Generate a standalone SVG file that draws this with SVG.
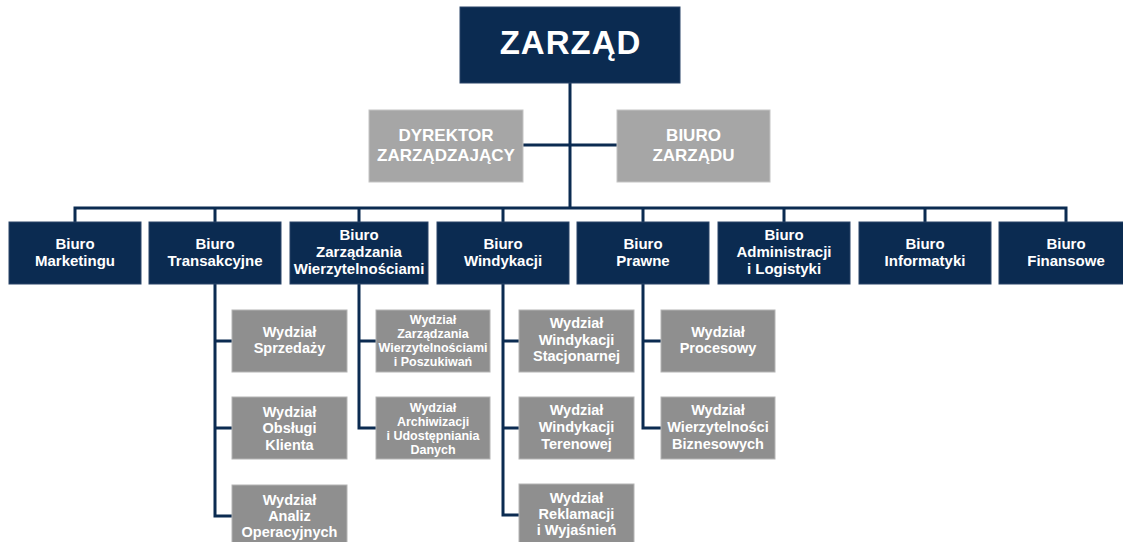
<svg xmlns="http://www.w3.org/2000/svg" width="1123" height="542" viewBox="0 0 1123 542">
<style>
.navy{fill:#0b2b51;stroke:#2a4468;stroke-width:1}
.g1{fill:#a6a6a6;stroke:#c4c4c4;stroke-width:1}
.g2{fill:#8f8f8f;stroke:#b4b4b4;stroke-width:1}
text{font-family:"Liberation Sans",Arial,sans-serif;font-weight:bold;fill:#ffffff;text-anchor:middle}
.b{font-size:15px}
.w{font-size:14.5px}
.s{font-size:12.5px}
.t{font-size:17px}
.conn{fill:none;stroke:#0b2b51;stroke-width:3;stroke-linejoin:miter}
</style>
<rect width="1123" height="542" fill="#ffffff"/>
<g id="connectors" class="conn">
<path d="M570 83V208"/>
<path d="M523 145H617"/>
<path d="M75 222V208H1066V222"/>
<path d="M215 208V222M359 208V222M503 208V222M643 208V222M784 208V222M925 208V222"/>
<path d="M215 284V516H232M215 341H232M215 428H232"/>
<path d="M359 284V428H376M359 341H376"/>
<path d="M503 284V515H519M503 341H519M503 428H519"/>
<path d="M643 284V428H661M643 341H661"/>
</g>
<g id="zarzad"><rect class="navy" x="460" y="7" width="220" height="76"/><text x="570.5" y="54" style="font-size:33px;letter-spacing:1px">ZARZĄD</text></g>
<g id="dyrektor"><rect class="g1" x="369" y="110" width="154" height="72"/><text class="t" x="446" y="141">DYREKTOR</text><text class="t" x="446" y="161">ZARZĄDZAJĄCY</text></g>
<g id="biuro-zarzadu"><rect class="g1" x="617" y="110" width="153" height="72"/><text class="t" x="693.5" y="141">BIURO</text><text class="t" x="693.5" y="161">ZARZĄDU</text></g>

<g id="b-marketingu"><rect class="navy" x="9" y="222" width="132" height="62"/><text class="b" x="75" y="249">Biuro</text><text class="b" x="75" y="266">Marketingu</text></g>
<g id="b-transakcyjne"><rect class="navy" x="149" y="222" width="132" height="62"/><text class="b" x="215" y="249">Biuro</text><text class="b" x="215" y="266">Transakcyjne</text></g>
<g id="b-zarzadzania"><rect class="navy" x="290" y="222" width="138" height="62"/><text class="b" x="359" y="240">Biuro</text><text class="b" x="359" y="257">Zarządzania</text><text class="b" x="359" y="274">Wierzytelnościami</text></g>
<g id="b-windykacji"><rect class="navy" x="437" y="222" width="132" height="62"/><text class="b" x="503" y="249">Biuro</text><text class="b" x="503" y="266">Windykacji</text></g>
<g id="b-prawne"><rect class="navy" x="577" y="222" width="132" height="62"/><text class="b" x="643" y="249">Biuro</text><text class="b" x="643" y="266">Prawne</text></g>
<g id="b-administracji"><rect class="navy" x="718" y="222" width="132" height="62"/><text class="b" x="784" y="240">Biuro</text><text class="b" x="784" y="257">Administracji</text><text class="b" x="784" y="274">i Logistyki</text></g>
<g id="b-informatyki"><rect class="navy" x="859" y="222" width="132" height="62"/><text class="b" x="925" y="249">Biuro</text><text class="b" x="925" y="266">Informatyki</text></g>
<g id="b-finansowe"><rect class="navy" x="999" y="222" width="132" height="62"/><text class="b" x="1066" y="249">Biuro</text><text class="b" x="1066" y="266">Finansowe</text></g>

<g id="w-sprzedazy"><rect class="g2" x="232" y="310" width="115" height="62"/><text class="w" x="289.5" y="337">Wydział</text><text class="w" x="289.5" y="353">Sprzedaży</text></g>
<g id="w-obslugi"><rect class="g2" x="232" y="397" width="115" height="62"/><text class="w" x="289.5" y="417">Wydział</text><text class="w" x="289.5" y="433">Obsługi</text><text class="w" x="289.5" y="450">Klienta</text></g>
<g id="w-analiz"><rect class="g2" x="232" y="485" width="115" height="62"/><text class="w" x="289.5" y="505">Wydział</text><text class="w" x="289.5" y="521">Analiz</text><text class="w" x="289.5" y="537">Operacyjnych</text></g>

<g id="w-zarzadzania"><rect class="g2" x="376" y="310" width="114" height="62"/><text class="s" x="433" y="324">Wydział</text><text class="s" x="433" y="338">Zarządzania</text><text class="s" x="433" y="352">Wierzytelnościami</text><text class="s" x="433" y="366">i Poszukiwań</text></g>
<g id="w-archiwizacji"><rect class="g2" x="376" y="397" width="114" height="62"/><text class="s" x="433" y="412">Wydział</text><text class="s" x="433" y="426">Archiwizacji</text><text class="s" x="433" y="440">i Udostępniania</text><text class="s" x="433" y="454">Danych</text></g>

<g id="w-stacjonarnej"><rect class="g2" x="519" y="310" width="115" height="62"/><text class="w" x="576.5" y="328">Wydział</text><text class="w" x="576.5" y="345">Windykacji</text><text class="w" x="576.5" y="361">Stacjonarnej</text></g>
<g id="w-terenowej"><rect class="g2" x="519" y="397" width="115" height="62"/><text class="w" x="576.5" y="415">Wydział</text><text class="w" x="576.5" y="432">Windykacji</text><text class="w" x="576.5" y="449">Terenowej</text></g>
<g id="w-reklamacji"><rect class="g2" x="519" y="484" width="115" height="62"/><text class="w" x="576.5" y="503">Wydział</text><text class="w" x="576.5" y="519">Reklamacji</text><text class="w" x="576.5" y="535">i Wyjaśnień</text></g>

<g id="w-procesowy"><rect class="g2" x="661" y="310" width="114" height="62"/><text class="w" x="718" y="337">Wydział</text><text class="w" x="718" y="353">Procesowy</text></g>
<g id="w-biznesowych"><rect class="g2" x="661" y="397" width="114" height="62"/><text class="w" x="718" y="415">Wydział</text><text class="w" x="718" y="432">Wierzytelności</text><text class="w" x="718" y="449">Biznesowych</text></g>
</svg>
